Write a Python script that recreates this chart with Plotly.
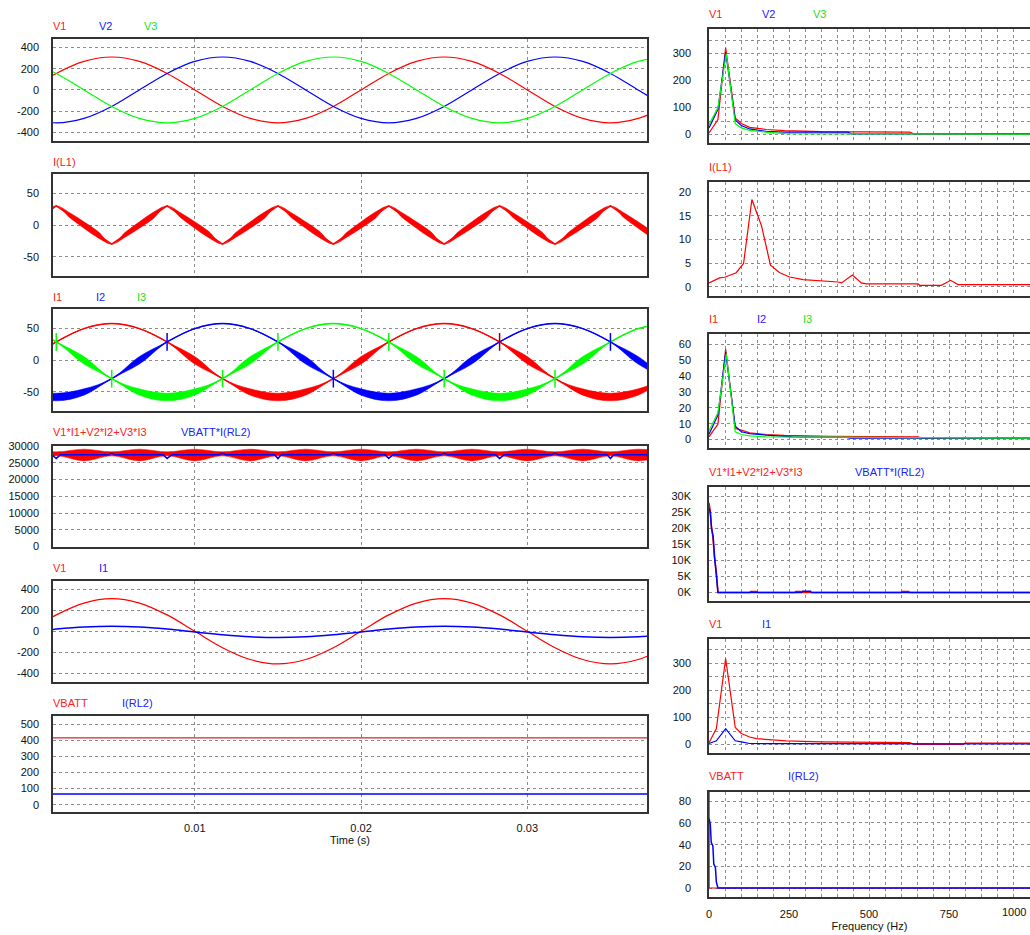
import plotly.graph_objects as go

W, H = 1030, 935

# ---------------- time-domain data ----------------
t_ms = [0, 1.667, 3.333, 5.0, 6.667, 8.333, 10.0, 11.667, 13.333, 15.0, 16.667, 18.333,
        20.0, 21.667, 23.333, 25.0, 26.667, 28.333, 30.0, 31.667, 33.333, 35.0, 36.667, 38.333]

v1 = [0, 156, 269, 311, 269, 156, 0, -156, -269, -311, -269, -156,
      0, 156, 269, 311, 269, 156, 0, -156, -269, -311, -269, -156]
v2 = [-269, -311, -269, -156, 0, 156, 269, 311, 269, 156, 0, -156,
      -269, -311, -269, -156, 0, 156, 269, 311, 269, 156, 0, -156]
v3 = [269, 156, 0, -156, -269, -311, -269, -156, 0, 156, 269, 311,
      269, 156, 0, -156, -269, -311, -269, -156, 0, 156, 269, 311]

# inductor current: corners every 3.33 ms, read at quarter-segment points
iL1_ms = [0, 0.833, 1.667, 2.5, 3.333, 4.167, 5.0, 5.833, 6.667, 7.5, 8.333, 9.167,
          10.0, 10.833, 11.667, 12.5, 13.333, 14.167, 15.0, 15.833, 16.667, 17.5, 18.333, 19.167,
          20.0, 20.833, 21.667, 22.5, 23.333, 24.167, 25.0, 25.833, 26.667, 27.5, 28.333, 29.167,
          30.0, 30.833, 31.667, 32.5, 33.333, 34.167, 35.0, 35.833, 36.667, 37.5, 38.333]
iL1 = [0, 15, 30, 15, 0, -15, -30, -15, 0, 15, 30, 15,
       0, -15, -30, -15, 0, 15, 30, 15, 0, -15, -30, -15,
       0, 15, 30, 15, 0, -15, -30, -15, 0, 15, 30, 15,
       0, -15, -30, -15, 0, 15, 30, 15, 0, -15, -30]
iL1_ripple = [5, 5, 0, 4, 5, 5, 0, 4, 5, 5, 0, 4,
              5, 5, 0, 4, 5, 5, 0, 4, 5, 5, 0, 4,
              5, 5, 0, 4, 5, 5, 0, 4, 5, 5, 0, 4,
              5, 5, 0, 4, 5, 5, 0, 4, 5, 5, 0]

i1 = [0, 29, 50, 58, 50, 29, 0, -29, -50, -58, -50, -29,
      0, 29, 50, 58, 50, 29, 0, -29, -50, -58, -50, -29]
i2 = [-50, -58, -50, -29, 0, 29, 50, 58, 50, 29, 0, -29,
      -50, -58, -50, -29, 0, 29, 50, 58, 50, 29, 0, -29]
i3 = [50, 29, 0, -29, -50, -58, -50, -29, 0, 29, 50, 58,
      50, 29, 0, -29, -50, -58, -50, -29, 0, 29, 50, 58]
i1_ripple = [6, 0, 0, 0, 0, 0, 6, 0, 5, 6, 5, 0, 6, 0, 0, 0, 0, 0, 6, 0, 5, 6, 5, 0]
i2_ripple = [5, 6, 5, 0, 6, 0, 0, 0, 0, 0, 6, 0, 5, 6, 5, 0, 6, 0, 0, 0, 0, 0, 6, 0]
i3_ripple = [0, 0, 6, 0, 5, 6, 5, 0, 6, 0, 0, 0, 0, 0, 6, 0, 5, 6, 5, 0, 6, 0, 0, 0]

# commutation spikes on the phase currents
spk_green_ms = [1.667, 5.0, 11.667, 15.0, 21.667, 25.0, 31.667]
spk_green_val = [29, -29, -29, 29, 29, -29, -29]
spk_blue_ms = [8.333, 18.333, 35.0]
spk_blue_val = [29, -29, 29]
spk_red_ms = [28.333]
spk_red_val = [29]

# input power band (upper / lower envelope) and battery power
pin_upper = [29100, 28300, 29100, 28300, 29100, 28300, 29100, 28300, 29100, 28300, 29100, 28300,
             29100, 28300, 29100, 28300, 29100, 28300, 29100, 28300, 29100, 28300, 29100, 28300]
pin_lower = [25600, 27100, 25600, 27100, 25600, 27100, 25600, 27100, 25600, 27100, 25600, 27100,
             25600, 27100, 25600, 27100, 25600, 27100, 25600, 27100, 25600, 27100, 25600, 27100]
pout_ms = [0, 1.4, 1.667, 1.9, 4.8, 5.0, 5.2, 8.1, 8.333, 8.6, 11.45, 11.667, 11.9,
           14.8, 15.0, 15.2, 18.1, 18.333, 18.6, 21.45, 21.667, 21.9, 24.8, 25.0, 25.2,
           28.1, 28.333, 28.6, 31.45, 31.667, 31.9, 34.8, 35.0, 35.2, 38.1, 38.333]
pout = [27400, 27400, 26300, 27400, 27400, 27900, 27400, 27400, 26300, 27400, 27400, 27900, 27400,
        27400, 26300, 27400, 27400, 27900, 27400, 27400, 26300, 27400, 27400, 27900, 27400,
        27400, 26300, 27400, 27400, 27900, 27400, 27400, 26300, 27400, 27400, 27900]

i1_line = [-6, 21, 41, 48, 41, 21, -6, -33, -53, -60, -53, -33,
           -6, 21, 41, 48, 41, 21, -6, -33, -53, -60, -53, -33]

dc_ms = [0, 38.333]
vbatt = [415, 415]
irl2 = [66, 66]

# ---------------- frequency-domain data ----------------
f_v1 = [0, 28, 52, 82, 101, 127, 179, 236, 351, 627, 640, 1005]
a_v1 = [6, 56, 321, 62, 41, 27, 19, 15, 11, 9, 3, 3]
f_v2 = [0, 28, 52, 82, 101, 127, 179, 236, 434, 445, 1005]
a_v2 = [25, 94, 306, 54, 34, 21, 12, 9, 9, 3, 3]
f_v3 = [0, 28, 54, 82, 101, 127, 179, 241, 1005]
a_v3 = [37, 100, 300, 41, 25, 16, 9, 4, 2]

f_il1 = [0, 33, 49, 85, 108, 134, 164, 192, 221, 252, 294, 351, 403, 414, 448, 476, 492,
         653, 658, 726, 755, 778, 1005]
a_il1 = [0.85, 1.9, 2.05, 3.0, 4.95, 18.4, 12.9, 4.6, 3.0, 2.1, 1.55, 1.3, 1.05, 0.85, 2.5,
         0.85, 0.64, 0.64, 0.35, 0.35, 1.4, 0.5, 0.5]

f_i1 = [0, 28, 52, 82, 101, 127, 179, 236, 377, 653, 665, 1005]
a_i1 = [1.7, 9.8, 57, 7, 6, 4.3, 3.2, 2.6, 2.1, 1.7, 0.9, 0.9]
f_i2 = [0, 28, 52, 82, 101, 127, 179, 262, 429, 440, 1005]
a_i2 = [3.4, 15.5, 55, 8.5, 4.9, 3.8, 2.8, 1.7, 1.3, 0.9, 0.9]
f_i3 = [0, 28, 54, 82, 101, 127, 179, 1005]
a_i3 = [5.5, 17, 54, 4.9, 3.2, 2.3, 1.7, 0.9]

f_pin = [0, 4, 7, 12, 17, 23, 28, 127, 130, 150, 153, 268, 271, 287, 290, 601, 604, 624, 627, 1005]
a_pin = [28000, 25500, 21000, 17500, 11000, 6500, 0, 0, 300, 300, 0, 0, 300, 300, 0, 0, 300, 300, 0, 0]
f_pout = [0, 4, 8, 13, 18, 23, 28, 289, 292, 317, 320, 1005]
a_pout = [26300, 25000, 20000, 17500, 10500, 6000, 0, 0, 400, 400, 0, 0]

f_v1b = [0, 23, 52, 82, 101, 127, 148, 179, 241, 351, 627, 640, 795, 800, 1005]
a_v1b = [7, 59, 318, 63, 41, 28, 22, 19, 14, 10, 7, 1, 1, 6, 6]
f_i1b = [0, 23, 52, 82, 101, 127, 1005]
a_i1b = [4, 14, 59, 14, 10, 4, 2.5]

f_vbatt = [0, 0.5, 1005]
a_vbatt = [415, 0, 0]
f_irl2 = [0, 4, 7, 12, 15, 20, 23, 28, 1005]
a_irl2 = [64, 59, 42, 39, 22, 19, 5.5, 0, 0]

time_ticks = [0.01, 0.02, 0.03]
time_labels = ["0.01", "0.02", "0.03"]
freq_ticks = [0, 250, 500, 750, 1000]
freq_labels = ["0", "250", "500", "750", ""]   # "1000" placed as text at the clipped edge
freq_last_label = "1000"

# ---------------- styling / layout ----------------
RED, BLUE, GREEN = "#ff0000", "#0000ff", "#00ff00"
TXT_RED, TXT_BLUE, TXT_GREEN = "#ff2020", "#2020ff", "#20e020"
FONT = "Liberation Sans, Arial, sans-serif"
GRID = "#8c8c8c"
BORDER = "#333333"
TICK_COLOR = "#111111"


def px(x):
    return x / W


def py(y):
    return 1 - y / H


left_x = (53, 647)
right_x = (709, 1030)
left_boxes = [(39, 141), (174, 276), (309, 411), (446, 547), (581, 682), (716, 812)]
right_boxes = [(29, 143), (182, 296), (334, 448), (487, 601), (639, 753), (792, 897)]

fig = go.Figure()
layout = dict(width=W, height=H, margin=dict(l=0, r=0, t=0, b=0, autoexpand=False),
              paper_bgcolor="white", plot_bgcolor="white", showlegend=False,
              font=dict(family=FONT, size=11, color=TICK_COLOR))


def ax_name(kind, i):
    return kind + ("axis" if i == 1 else f"axis{i}")


def ref(kind, i):
    return kind if i == 1 else f"{kind}{i}"


def common_axis():
    return dict(showline=True, linecolor=BORDER, linewidth=1.5, mirror=True, automargin=False,
                showgrid=True, gridcolor=GRID, griddash="3px,3px", gridwidth=1,
                zeroline=False, ticks="", tickfont=dict(family=FONT, size=11, color=TICK_COLOR))


def lab(vals):
    return [str(v) for v in vals]


# left axes 1..6
left_y = [
    dict(range=[-482, 481], tickvals=[-400, -200, 0, 200, 400]),
    dict(range=[-80.5, 80.5], tickvals=[-50, 0, 50]),
    dict(range=[-80, 81], tickvals=[-50, 0, 50]),
    dict(range=[-150, 30050], tickvals=[0, 5000, 10000, 15000, 20000, 25000, 30000]),
    dict(range=[-483, 479], tickvals=[-400, -200, 0, 200, 400]),
    dict(range=[-45, 551], tickvals=[0, 100, 200, 300, 400, 500]),
]
for k in range(6):
    i = k + 1
    top, bot = left_boxes[k]
    xa = common_axis()
    xa.update(domain=[px(left_x[0]), px(left_x[1])], anchor=ref("y", i),
              range=[0.00147, 0.0372], tickvals=time_ticks, ticktext=time_labels,
              showticklabels=(k == 5), ticklabelstandoff=5)
    if k == 5:
        xa.update(title=dict(text="Time (s)", font=dict(family=FONT, size=11, color=TICK_COLOR), standoff=2))
    ya = common_axis()
    ya.update(domain=[py(bot), py(top)], anchor=ref("x", i), ticklabelstandoff=10,
              ticktext=lab(left_y[k]["tickvals"]), **left_y[k])
    layout[ax_name("x", i)] = xa
    layout[ax_name("y", i)] = ya

# right axes 7..12
minor_grid = dict(dtick=50, showgrid=True, gridcolor=GRID, griddash="3px,3px")
right_y = [
    dict(range=[-31, 391], tickvals=[0, 100, 200, 300], minor=minor_grid),
    dict(range=[-1.9, 22.1], tickvals=[0, 5, 10, 15, 20]),
    dict(range=[-5.3, 66.5], tickvals=[0, 10, 20, 30, 40, 50, 60]),
    dict(range=[-2630, 32950], tickvals=[0, 5000, 10000, 15000, 20000, 25000, 30000],
         ticktext=["0K", "5K", "10K", "15K", "20K", "25K", "30K"]),
    dict(range=[-31, 390], tickvals=[0, 100, 200, 300], minor=minor_grid),
    dict(range=[-8.3, 88.6], tickvals=[0, 20, 40, 60, 80]),
]
for k in range(6):
    i = k + 7
    top, bot = right_boxes[k]
    xa = common_axis()
    xa.update(domain=[px(right_x[0]), 1.0], anchor=ref("y", i),
              range=[0, 1003], tickvals=freq_ticks, ticktext=freq_labels,
              showticklabels=(k == 5), minor=minor_grid, ticklabelstandoff=6)
    if k == 5:
        xa.update(title=dict(text="Frequency (Hz)", font=dict(family=FONT, size=11, color=TICK_COLOR), standoff=2))
    ya = common_axis()
    cfg = dict(right_y[k])
    if "ticktext" not in cfg:
        cfg["ticktext"] = lab(cfg["tickvals"])
    ya.update(domain=[py(bot), py(top)], anchor=ref("x", i), ticklabelstandoff=14, mirror=False, **cfg)
    layout[ax_name("x", i)] = xa
    layout[ax_name("y", i)] = ya


def tt(ms_list):
    return [m / 1000.0 for m in ms_list]


def add_line(i, x, y, color, width=1.2, shape="linear"):
    fig.add_trace(go.Scatter(x=x, y=y, mode="lines", xaxis=ref("x", i), yaxis=ref("y", i),
                             line=dict(color=color, width=width, shape=shape), hoverinfo="skip"))


def add_band(i, x, center, half, color, shape="linear"):
    up = [c + h for c, h in zip(center, half)]
    lo = [c - h for c, h in zip(center, half)]
    fig.add_trace(go.Scatter(x=x, y=up, mode="lines", xaxis=ref("x", i), yaxis=ref("y", i),
                             line=dict(color=color, width=0.5, shape=shape), hoverinfo="skip"))
    fig.add_trace(go.Scatter(x=x, y=lo, mode="lines", xaxis=ref("x", i), yaxis=ref("y", i),
                             line=dict(color=color, width=0.5, shape=shape), fill="tonexty",
                             fillcolor=color, hoverinfo="skip"))


def add_spikes(i, ms_list, vals, color, half=14):
    xs, ys = [], []
    for m, v in zip(ms_list, vals):
        xs += [m / 1000.0, m / 1000.0, None]
        ys += [v - half, v + half, None]
    fig.add_trace(go.Scatter(x=xs, y=ys, mode="lines", xaxis=ref("x", i), yaxis=ref("y", i),
                             line=dict(color=color, width=1.5), hoverinfo="skip"))


T = tt(t_ms)
# panel 1
add_line(1, T, v1, RED, shape="spline")
add_line(1, T, v2, BLUE, shape="spline")
add_line(1, T, v3, GREEN, shape="spline")
# panel 2
TL = tt(iL1_ms)
add_band(2, TL, iL1, iL1_ripple, RED, shape="spline")
add_line(2, TL, iL1, RED, width=1.5)
# panel 3
for c, hw, col in [(i1, i1_ripple, RED), (i2, i2_ripple, BLUE), (i3, i3_ripple, GREEN)]:
    add_band(3, T, c, hw, col, shape="spline")
    add_line(3, T, c, col, width=1.5, shape="spline")
add_spikes(3, spk_green_ms, spk_green_val, GREEN)
add_spikes(3, spk_blue_ms, spk_blue_val, BLUE)
add_spikes(3, spk_red_ms, spk_red_val, "#a00000")
# panel 4
fig.add_trace(go.Scatter(x=T, y=pin_upper, mode="lines", xaxis="x4", yaxis="y4",
                         line=dict(color=RED, width=0.5, shape="spline"), hoverinfo="skip"))
fig.add_trace(go.Scatter(x=T, y=pin_lower, mode="lines", xaxis="x4", yaxis="y4",
                         line=dict(color=RED, width=0.5, shape="spline"), fill="tonexty",
                         fillcolor=RED, hoverinfo="skip"))
add_line(4, tt(pout_ms), pout, BLUE, width=1.5)
# panel 5
add_line(5, T, v1, RED, shape="spline")
add_line(5, T, i1_line, BLUE, width=1.5, shape="spline")
# panel 6
add_line(6, tt(dc_ms), vbatt, "#d02828", width=1.2)
add_line(6, tt(dc_ms), irl2, BLUE, width=1.5)

# spectra
add_line(7, f_v1, a_v1, RED)
add_line(7, f_v2, a_v2, BLUE)
add_line(7, f_v3, a_v3, GREEN)
add_line(8, f_il1, a_il1, RED)
add_line(9, f_i1, a_i1, RED)
add_line(9, f_i2, a_i2, BLUE)
add_line(9, f_i3, a_i3, GREEN)
add_line(10, f_pin, a_pin, RED, width=1.5)
add_line(10, f_pout, a_pout, BLUE, width=1.5)
add_line(11, f_v1b, a_v1b, RED)
add_line(11, f_i1b, a_i1b, BLUE)
add_line(12, f_vbatt, a_vbatt, RED)
add_line(12, f_irl2, a_irl2, BLUE, width=1.5)

# panel captions (signal names)
captions = [
    (25.7, [(53, "V1", TXT_RED), (99, "V2", TXT_BLUE), (144, "V3", TXT_GREEN)]),
    (162, [(53, "I(L1)", TXT_RED)]),
    (296.7, [(53, "I1", TXT_RED), (96, "I2", TXT_BLUE), (137, "I3", TXT_GREEN)]),
    (432, [(53, "V1*I1+V2*I2+V3*I3", TXT_RED), (181, "VBATT*I(RL2)", TXT_BLUE)]),
    (567.7, [(53, "V1", TXT_RED), (99, "I1", TXT_BLUE)]),
    (702.7, [(53, "VBATT", TXT_RED), (122, "I(RL2)", TXT_BLUE)]),
    (14.3, [(709, "V1", TXT_RED), (762, "V2", TXT_BLUE), (813, "V3", TXT_GREEN)]),
    (167.3, [(709, "I(L1)", TXT_RED)]),
    (319, [(709, "I1", TXT_RED), (757, "I2", TXT_BLUE), (803, "I3", TXT_GREEN)]),
    (472, [(709, "V1*I1+V2*I2+V3*I3", TXT_RED), (855, "VBATT*I(RL2)", TXT_BLUE)]),
    (624, [(709, "V1", TXT_RED), (762, "I1", TXT_BLUE)]),
    (775.7, [(709, "VBATT", TXT_RED), (788, "I(RL2)", TXT_BLUE)]),
]
ann = []
for yc, items in captions:
    for x0, txt, col in items:
        ann.append(dict(x=px(x0), y=py(yc), xref="paper", yref="paper", text=txt,
                        showarrow=False, xanchor="left", yanchor="middle", xshift=-2,
                        font=dict(family=FONT, size=11, color=col)))
# last frequency tick label, kept inside the picture edge
ann.append(dict(x=1.0, y=py(911.5), xref="paper", yref="paper", text=freq_last_label,
                showarrow=False, xanchor="right", yanchor="middle", xshift=-2,
                font=dict(family=FONT, size=11, color=TICK_COLOR)))
layout["annotations"] = ann

fig.update_layout(**layout)
fig.write_html("out.html", config={"displayModeBar": False},
               post_script="document.body.style.margin='0px';document.body.style.overflow='hidden';")
